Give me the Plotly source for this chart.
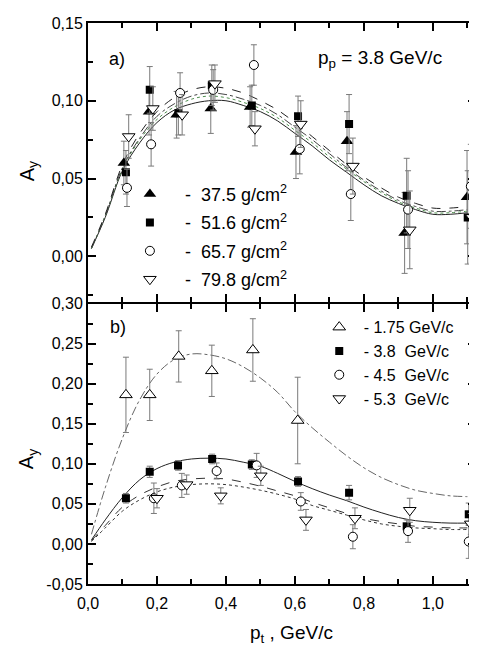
import plotly.graph_objects as go

# ---------------- data: panel a) (p_p = 3.8 GeV/c, different thickness) ----------------
a_names = ["37.5 g/cm<sup>2</sup>", "51.6 g/cm<sup>2</sup>", "65.7 g/cm<sup>2</sup>", "79.8 g/cm<sup>2</sup>"]
a1_x = [0.104, 0.177, 0.257, 0.356, 0.470, 0.603, 0.751, 0.918, 1.099]
a1_y = [0.060, 0.093, 0.091, 0.095, 0.096, 0.067, 0.074, 0.015, 0.038]
a1_e = [0.014, 0.015, 0.015, 0.016, 0.013, 0.017, 0.019, 0.026, 0.030]
a2_x = [0.110, 0.179, 0.262, 0.359, 0.475, 0.609, 0.757, 0.924, 1.101]
a2_y = [0.054, 0.107, 0.092, 0.110, 0.097, 0.090, 0.085, 0.039, 0.025]
a2_e = [0.014, 0.015, 0.014, 0.013, 0.013, 0.013, 0.019, 0.024, 0.030]
a3_x = [0.113, 0.183, 0.267, 0.363, 0.481, 0.614, 0.762, 0.928, 1.110]
a3_y = [0.044, 0.072, 0.105, 0.107, 0.123, 0.069, 0.040, 0.030, 0.045]
a3_e = [0.012, 0.014, 0.013, 0.013, 0.013, 0.016, 0.017, 0.025, 0.027]
a4_x = [0.118, 0.188, 0.273, 0.368, 0.484, 0.617, 0.768, 0.933, 1.113]
a4_y = [0.077, 0.095, 0.091, 0.111, 0.082, 0.085, 0.058, 0.017, 0.025]
a4_e = [0.014, 0.014, 0.013, 0.012, 0.011, 0.015, 0.018, 0.025, 0.029]

# fit curves
curve_x = [0.01, 0.05, 0.10, 0.15, 0.20, 0.25, 0.30, 0.35, 0.40, 0.45, 0.50, 0.55,
           0.60, 0.65, 0.70, 0.75, 0.80, 0.85, 0.90, 0.95, 1.00, 1.05, 1.10]
a_fit_solid = [0.005, 0.025, 0.055, 0.073, 0.086, 0.094, 0.098, 0.100, 0.100, 0.097, 0.093, 0.087,
               0.079, 0.071, 0.062, 0.054, 0.046, 0.039, 0.034, 0.030, 0.027, 0.027, 0.028]
a_fit_green = [0.005, 0.026, 0.056, 0.075, 0.088, 0.096, 0.101, 0.103, 0.102, 0.099, 0.095, 0.089,
               0.081, 0.073, 0.064, 0.056, 0.048, 0.041, 0.035, 0.031, 0.028, 0.028, 0.029]
a_fit_dashdot = [0.005, 0.026, 0.057, 0.076, 0.090, 0.098, 0.103, 0.105, 0.104, 0.101, 0.097, 0.091,
                 0.083, 0.075, 0.066, 0.057, 0.049, 0.042, 0.036, 0.032, 0.029, 0.029, 0.030]
a_fit_dash = [0.006, 0.027, 0.059, 0.079, 0.093, 0.102, 0.107, 0.109, 0.108, 0.105, 0.100, 0.094,
              0.086, 0.077, 0.068, 0.059, 0.051, 0.044, 0.038, 0.034, 0.031, 0.031, 0.032]

# ---------------- data: panel b) (different beam momenta) ----------------
b_names = ["1.75 GeV/c", "3.8\u00a0 GeV/c", "4.5\u00a0 GeV/c", "5.3\u00a0 GeV/c"]
b1_x = [0.110, 0.179, 0.263, 0.359, 0.478, 0.608]
b1_y = [0.186, 0.186, 0.234, 0.216, 0.242, 0.154]
b1_e = [0.047, 0.032, 0.032, 0.032, 0.039, 0.054]
b2_x = [0.110, 0.179, 0.261, 0.360, 0.475, 0.609, 0.757, 0.924, 1.104]
b2_y = [0.057, 0.090, 0.098, 0.106, 0.099, 0.078, 0.064, 0.022, 0.037]
b2_e = [0.006, 0.007, 0.006, 0.006, 0.006, 0.006, 0.009, 0.008, 0.014]
b3_x = [0.191, 0.272, 0.373, 0.489, 0.617, 0.768, 0.928, 1.104]
b3_y = [0.057, 0.073, 0.091, 0.098, 0.053, 0.009, 0.016, 0.003]
b3_e = [0.019, 0.015, 0.010, 0.015, 0.011, 0.015, 0.014, 0.021]
b4_x = [0.200, 0.286, 0.385, 0.501, 0.632, 0.774, 0.933, 1.110]
b4_y = [0.057, 0.074, 0.060, 0.085, 0.030, 0.032, 0.042, 0.025]
b4_e = [0.012, 0.012, 0.010, 0.012, 0.013, 0.013, 0.015, 0.013]

b_fit_175 = [0.012, 0.070, 0.132, 0.180, 0.212, 0.230, 0.237, 0.236, 0.231, 0.221, 0.207, 0.189,
             0.165, 0.145, 0.127, 0.110, 0.095, 0.083, 0.074, 0.067, 0.063, 0.060, 0.059]
b_fit_38 = [0.005, 0.030, 0.058, 0.080, 0.094, 0.102, 0.106, 0.107, 0.106, 0.102, 0.097, 0.088,
            0.078, 0.069, 0.061, 0.054, 0.046, 0.039, 0.033, 0.029, 0.027, 0.026, 0.026]
b_fit_45 = [0.004, 0.023, 0.046, 0.061, 0.071, 0.078, 0.081, 0.082, 0.081, 0.077, 0.072, 0.066,
            0.060, 0.052, 0.045, 0.038, 0.032, 0.028, 0.025, 0.022, 0.021, 0.020, 0.020]
b_fit_53 = [0.003, 0.020, 0.041, 0.055, 0.065, 0.071, 0.074, 0.075, 0.074, 0.071, 0.067, 0.062,
            0.056, 0.048, 0.042, 0.036, 0.030, 0.025, 0.022, 0.020, 0.019, 0.018, 0.018]

x_tickvals = [0.0, 0.2, 0.4, 0.6, 0.8, 1.0]
x_ticktext = ["0,0", "0,2", "0,4", "0,6", "0,8", "1,0"]
ya_tickvals = [0.0, 0.05, 0.10, 0.15]
ya_ticktext = ["0,00", "0,05", "0,10", "0,15"]
yb_tickvals = [-0.05, 0.0, 0.05, 0.10, 0.15, 0.20, 0.25, 0.30]
yb_ticktext = ["-0,05", "0,00", "0,05", "0,10", "0,15", "0,20", "0,25", "0,30"]

FONT = "Liberation Sans, Arial, sans-serif"
ERR = dict(type="data", thickness=1, width=3, color="#7a7a7a")

fig = go.Figure()

# curves panel a
for ys, dash, col in [(a_fit_solid, "solid", "#222222"), (a_fit_green, "dot", "#4f8f4f"),
                      (a_fit_dashdot, "dashdot", "#444444"), (a_fit_dash, "dash", "#222222")]:
    fig.add_trace(go.Scatter(x=curve_x, y=ys, mode="lines", line=dict(color=col, width=1, dash=dash, shape="spline"),
                             xaxis="x2", yaxis="y2", showlegend=False, hoverinfo="skip"))

a_sets = [(a1_x, a1_y, a1_e, dict(symbol="triangle-up", size=11, color="black")),
          (a2_x, a2_y, a2_e, dict(symbol="square", size=8, color="black")),
          (a3_x, a3_y, a3_e, dict(symbol="circle", size=9, color="white", line=dict(color="black", width=1))),
          (a4_x, a4_y, a4_e, dict(symbol="triangle-down", size=11, color="white", line=dict(color="black", width=1)))]
for i, (xs, ys, es, mk) in enumerate(a_sets):
    fig.add_trace(go.Scatter(x=xs, y=ys, mode="markers", marker=mk,
                             error_y=dict(array=es, **ERR), xaxis="x2", yaxis="y2",
                             name="\u00a0\u00a0\u00a0-\u00a0 " + a_names[i], legend="legend", legendgroup="a%d" % i))

# curves panel b
for ys, dash, col in [(b_fit_175, "dashdot", "#666666"), (b_fit_38, "solid", "#222222"),
                      (b_fit_45, "dash", "#333333"), (b_fit_53, "dot", "#333333")]:
    fig.add_trace(go.Scatter(x=curve_x, y=ys, mode="lines", line=dict(color=col, width=1, dash=dash, shape="spline"),
                             xaxis="x", yaxis="y", showlegend=False, hoverinfo="skip"))

b_sets = [(b1_x, b1_y, b1_e, dict(symbol="triangle-up", size=11, color="white", line=dict(color="black", width=1))),
          (b2_x, b2_y, b2_e, dict(symbol="square", size=8, color="black")),
          (b3_x, b3_y, b3_e, dict(symbol="circle", size=9, color="white", line=dict(color="black", width=1))),
          (b4_x, b4_y, b4_e, dict(symbol="triangle-down", size=11, color="white", line=dict(color="black", width=1)))]
for i, (xs, ys, es, mk) in enumerate(b_sets):
    fig.add_trace(go.Scatter(x=xs, y=ys, mode="markers", marker=mk,
                             error_y=dict(array=es, **ERR), xaxis="x", yaxis="y",
                             name="\u00a0- " + b_names[i], legend="legend2"))

axis_common = dict(showline=True, linecolor="black", linewidth=2, mirror="allticks", ticks="inside",
                   ticklen=8, tickwidth=1.5, tickcolor="black", showgrid=False, zeroline=False,
                   tickfont=dict(family=FONT, size=16, color="black"))
minor_common = dict(ticklen=5, ticks="inside", tickcolor="black", tickwidth=1.5)

fig.update_layout(
    width=477, height=648,
    # the page body adds an 8px offset, so margins are set to land the plot area where the reference has it
    margin=dict(l=80, r=8, t=7, b=72),
    paper_bgcolor="white", plot_bgcolor="white",
    font=dict(family=FONT, color="black"),
    xaxis=dict(domain=[0, 1], anchor="y", range=[0, 1.125], tickvals=x_tickvals, ticktext=x_ticktext,
               minor=dict(dtick=0.1, tick0=0, **minor_common),
               ticklabelstandoff=4, **axis_common),
    xaxis2=dict(domain=[0, 1], anchor="y2", matches="x", range=[0, 1.125], tickvals=x_tickvals,
                showticklabels=False,
                minor=dict(dtick=0.1, tick0=0, **minor_common),
                **axis_common),
    yaxis=dict(domain=[0, 0.5], anchor="x", range=[-0.05, 0.30], tickvals=yb_tickvals, ticktext=yb_ticktext,
               minor=dict(dtick=0.025, tick0=0, **minor_common),
               **axis_common),
    yaxis2=dict(domain=[0.5035, 1], anchor="x2", range=[-0.0291, 0.15], tickvals=ya_tickvals, ticktext=ya_ticktext,
                minor=dict(dtick=0.025, tick0=0, **minor_common),
                **axis_common),
    legend=dict(x=0.108, y=0.7276, xanchor="left", yanchor="top", bgcolor="rgba(0,0,0,0)",
                font=dict(family=FONT, size=18, color="black"), tracegroupgap=2),
    legend2=dict(x=0.596, y=0.488, xanchor="left", yanchor="top", bgcolor="rgba(0,0,0,0)",
                 font=dict(family=FONT, size=16, color="black")),
    annotations=[
        dict(text="A<sub>y</sub>", xref="paper", yref="paper", x=-0.154, y=0.736, textangle=-90,
             showarrow=False, font=dict(family=FONT, size=20), xanchor="center", yanchor="middle"),
        dict(text="A<sub>y</sub>", xref="paper", yref="paper", x=-0.154, y=0.223, textangle=-90,
             showarrow=False, font=dict(family=FONT, size=20), xanchor="center", yanchor="middle"),
        dict(text="p<sub>t</sub> , GeV/c", xref="paper", yref="paper", x=0.524, y=-0.0896,
             showarrow=False, font=dict(family=FONT, size=19), xanchor="center", yanchor="middle"),
        dict(text="a)", xref="paper", yref="paper", x=0.0746, y=0.935,
             showarrow=False, font=dict(family=FONT, size=18), xanchor="center", yanchor="middle"),
        dict(text="b)", xref="paper", yref="paper", x=0.077, y=0.4587,
             showarrow=False, font=dict(family=FONT, size=18), xanchor="center", yanchor="middle"),
        dict(text="p<sub>p</sub> = 3.8 GeV/c", xref="paper", yref="paper", x=0.753, y=0.935,
             showarrow=False, font=dict(family=FONT, size=19), xanchor="center", yanchor="middle"),
    ],
)

fig.write_html("out.html")
